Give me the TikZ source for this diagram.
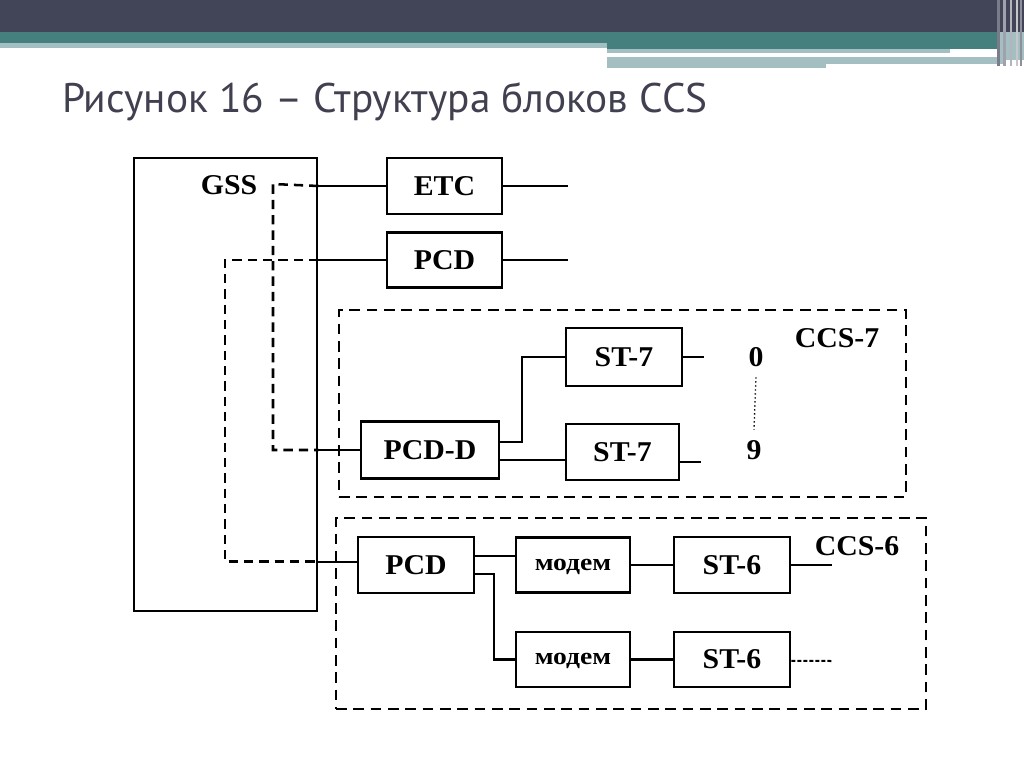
\documentclass[tikz,border=0pt]{standalone}
\usepackage{fontspec}
\setmainfont{Liberation Serif}
\newfontfamily\diagfont[FakeStretch=1.04]{Liberation Serif}
\newfontfamily\modemfont[FakeStretch=1.15]{Liberation Serif}
\newfontfamily\titlefont{PT Sans}
\definecolor{bardark}{HTML}{424458}
\definecolor{barteal}{HTML}{45807F}
\definecolor{barlight}{HTML}{A3BFC2}
\definecolor{titlegray}{HTML}{404050}
\begin{document}
\begin{tikzpicture}[x=0.75pt,y=-0.75pt,
  blk/.style={draw,line width=2.2pt,rectangle,inner sep=0pt,text height=14pt,text depth=0pt,font=\diagfont\bfseries\fontsize{21.5}{23}\selectfont},
  mdm/.style={blk,text height=7.5pt,font=\modemfont\bfseries\fontsize{18}{20}\selectfont},
  lbl/.style={inner sep=0pt,text height=14pt,text depth=0pt,font=\diagfont\bfseries\fontsize{21.5}{23}\selectfont},
  conn/.style={line width=1.6pt},
  dconn/.style={line width=1.9pt,dash pattern=on 7pt off 4.5pt},
  grp/.style={draw,line width=2.1pt,dash pattern=on 8pt off 5pt,rectangle,inner sep=0pt}]
\useasboundingbox (0,0) rectangle (1024,767);
\fill[white] (0,0) rectangle (1024,767);
% header bars
\fill[bardark] (0,0) rectangle (1024,32);
\fill[barteal] (0,32) rectangle (1000,43);
\fill[barlight] (0,43) rectangle (607,48);
\fill[barteal] (607,43) rectangle (1000,49);
\fill[barlight] (607,49) rectangle (950,53);
\fill[barlight] (607,57) rectangle (1006,64);
\fill[barlight] (607,64) rectangle (826,68);
\fill[barlight] (1000,32) rectangle (1024,60);
\fill[bardark!70] (997,0) rectangle (1000,66);
\fill[bardark!50] (1003,0) rectangle (1006,66);
\fill[bardark!40] (1010,0) rectangle (1012,66);
\fill[bardark!30] (1016,0) rectangle (1018,66);
\fill[bardark!60] (1020,0) rectangle (1022,66);
% title
\node[anchor=base west,inner sep=0pt,text=titlegray,font=\titlefont\fontsize{31}{34}\selectfont] (title) at (62,113) {Рисунок 16 – Структура блоков CCS};
% GSS
\node[blk,minimum width=137.25pt,minimum height=339.75pt] (GSS) at (225.5,384.5) {};
\node[lbl] (GSSl) at (229,185) {GSS};
% top blocks
\node[blk,minimum width=86.25pt,minimum height=42pt] (ETC) at (444.5,186) {ETC};
\node[blk,minimum width=86.25pt,minimum height=41.25pt] (PCDa) at (444.5,260) {PCD};
\coordinate (oE) at (568,186);
\coordinate (oP) at (568,260);
\draw[conn] (ETC.east) -- (oE);
\draw[conn] (PCDa.east) -- (oP);
% CCS-7 group
\node[grp,minimum width=425.25pt,minimum height=140.25pt] (CCS7) at (622.5,403.5) {};
\node[lbl] (CCS7l) at (837,338) {CCS-7};
\node[blk,minimum width=103.5pt,minimum height=42.75pt] (PCDD) at (430,450) {PCD-D};
\node[blk,minimum width=87pt,minimum height=43.5pt] (STa) at (624,357) {ST-7};
\node[blk,minimum width=84.75pt,minimum height=42pt] (STb) at (622.5,452) {ST-7};
\node[lbl] (n0) at (756,357) {0};
\node[lbl] (n9) at (754,450) {9};
\coordinate (oA) at (704,357);
\coordinate (oB) at (701,462);
\coordinate (j1) at (522,442);
\draw[conn] (STa.east) -- (oA);
\draw[conn] ([yshift=-7.5pt]STb.east) -- (oB);
\draw[line width=1pt,dotted] ([yshift=-8pt]n0.south) -- ([yshift=8pt]n9.north);
\draw[conn] ([yshift=6pt]PCDD.east) -- (j1) |- (STa.west);
\draw[conn] ([yshift=-7.5pt]PCDD.east) -- ([yshift=-7.5pt]PCDD.east -| STb.west);
% CCS-6 group
\node[grp,minimum width=442.5pt,minimum height=143.25pt] (CCS6) at (631,613.5) {};
\node[lbl] (CCS6l) at (857,546) {CCS-6};
\node[blk,minimum width=87pt,minimum height=42pt] (PCDb) at (416,565) {PCD};
\node[mdm,minimum width=85.5pt,minimum height=41.25pt] (M1) at (573,565) {модем};
\node[blk,minimum width=87pt,minimum height=42pt] (S61) at (732,565) {ST-6};
\node[mdm,minimum width=85.5pt,minimum height=41.25pt] (M2) at (573,659.5) {модем};
\node[blk,minimum width=87pt,minimum height=41.25pt] (S62) at (732,659.5) {ST-6};
\coordinate (o61) at (832,565);
\coordinate (o62) at (832,661);
\coordinate (j2) at (494,574);
\draw[conn] ([yshift=7pt]PCDb.east) -- ([yshift=7pt]PCDb.east -| M1.west);
\draw[conn] ([yshift=-6.75pt]PCDb.east) -- (j2) |- (M2.west);
\draw[conn] (M1.east) -- (S61.west);
\draw[conn] (M2.east) -- (S62.west);
\draw[conn] (S61.east) -- (o61);
\draw[line width=1.5pt,dash pattern=on 3pt off 1.5pt] ([yshift=-1pt]S62.east) -- (o62);
% GSS links
\coordinate (c1) at (273,184);
\coordinate (c2) at (225,260);
\draw[conn] (ETC.west) -- (ETC.west -| GSS.east);
\draw[dconn] (ETC.west -| GSS.east) -- (c1) |- (PCDD.west -| GSS.east);
\draw[conn] (PCDD.west -| GSS.east) -- (PCDD.west);
\draw[conn] (PCDa.west) -- (PCDa.west -| GSS.east);
\draw[dconn] (PCDa.west -| GSS.east) -- (c2) |- ([yshift=2.5pt]PCDb.west -| GSS.east);
\draw[conn] ([yshift=2.5pt]PCDb.west -| GSS.east) -- ([yshift=2.5pt]PCDb.west);
\end{tikzpicture}
\end{document}
